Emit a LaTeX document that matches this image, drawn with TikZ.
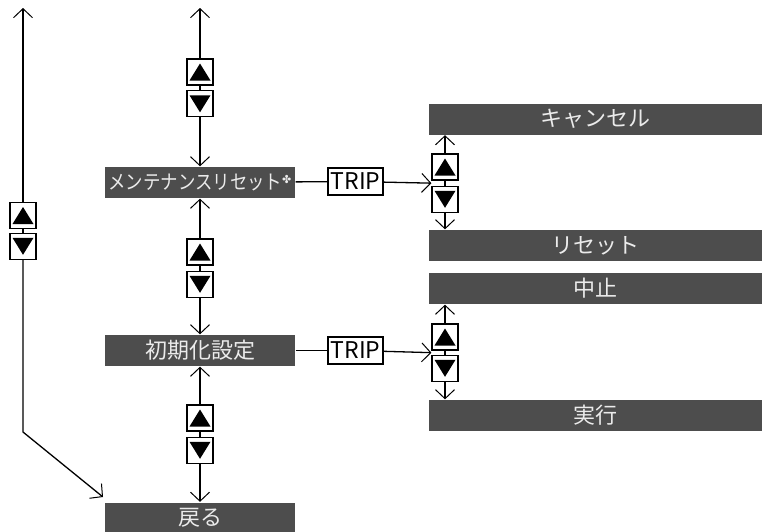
\documentclass[tikz,border=0pt]{standalone}
\usepackage{fontspec}
\setmainfont{Noto Sans CJK JP}
\newfontfamily\symfont{DejaVu Sans}
\usepackage{xcolor}
\usepackage{tikz}
\usetikzlibrary{arrows.meta, calc, positioning}

\definecolor{menugray}{HTML}{4D4D4D}

\begin{document}
\begin{tikzpicture}[x=1pt, y=-1pt, line width=1.3pt,
    >={Straight Barb[length=9pt, width=19pt, line width=1pt]},
    menu/.style={fill=menugray, text=white!92!black, minimum height=31pt, inner sep=0pt,
        font=\fontsize{22}{22}\selectfont},
    mainmenu/.style={menu, minimum width=190pt},
    submenu/.style={menu, minimum width=333pt},
    tripbox/.style={draw, fill=white, minimum width=55pt, minimum height=27pt, inner sep=0pt,
        font=\fontsize{23}{23}\selectfont},
    keybox/.style={draw, fill=white, minimum size=26pt, inner sep=0pt}]
    \useasboundingbox (0,0) rectangle (762,531);

    % Menüpunkte der Hauptspalte
    \node[mainmenu] (reset) at (200,182.5) {\fontsize{20}{20}\selectfont\scalebox{0.87}[1]{メンテナンスリセット}\raisebox{6pt}{\symfont\fontsize{11}{11}\selectfont ✤}};
    \node[mainmenu] (init)  at (200,350.5) {初期化設定};
    \node[mainmenu] (back)  at (200,518)   {戻る};

    % Untermenüs rechts
    \node[submenu] (cancel)  at (595.5,119)   {キャンセル};
    \node[submenu] (doreset) at (595.5,245.5) {リセット};
    \node[submenu] (stop)    at (595.5,288.5) {中止};
    \node[submenu] (exec)    at (595.5,415.5) {実行};

    % TRIP-Tasten
    \node[tripbox] (tripA) at (355.5,181.5) {TRIP};
    \node[tripbox] (tripB) at (355.5,350.5) {TRIP};

    % Pfeiltasten
    \node[keybox] (mainUpA) at (200,72) {};
    \node[keybox, below=4.5pt of mainUpA] (mainDnA) {};
    \node[keybox] (mainUpB) at (200,252) {};
    \node[keybox, below=5pt of mainUpB] (mainDnB) {};
    \node[keybox] (mainUpC) at (200,418) {};
    \node[keybox, below=5pt of mainUpC] (mainDnC) {};
    \node[keybox] (leftUp) at (23,215.5) {};
    \node[keybox, below=3.5pt of leftUp] (leftDn) {};
    \node[keybox] (subUpA) at (445,167) {};
    \node[keybox, below=5pt of subUpA] (subDnA) {};
    \node[keybox] (subUpB) at (445,337) {};
    \node[keybox, below=4pt of subUpB] (subDnB) {};

    % Dreiecke in den Tasten
    \foreach \k in {mainUpA, mainUpB, mainUpC, leftUp, subUpA, subUpB}
        \fill ($(\k.center)+(0pt,8.5pt)$) -- ++(-10.5pt,-17pt) -- ++(21pt,0pt) -- cycle;
    \foreach \k in {mainDnA, mainDnB, mainDnC, leftDn, subDnA, subDnB}
        \fill ($(\k.center)+(0pt,-8.5pt)$) -- ++(-10.5pt,17pt) -- ++(21pt,0pt) -- cycle;

    % Hilfspunkte
    \coordinate (mainTop) at (200,8);
    \coordinate (leftTop) at (23,8);
    \coordinate (leftBend) at (23,432);
    \coordinate (leftEnd) at (103,497);
    \coordinate (subInA) at ($(subUpA.south west)!0.5!(subDnA.north west)$);
    \coordinate (subInB) at ($(subUpB.south west)!0.5!(subDnB.north west)$);

    % Verbindungen Hauptspalte
    \draw[->] (mainUpA) -- (mainTop);
    \draw (mainUpA) -- (mainDnA);
    \draw[->] (mainDnA) -- (reset);
    \draw[->] (mainUpB) -- (reset);
    \draw (mainUpB) -- (mainDnB);
    \draw[->] (mainDnB) -- (init);
    \draw[->] (mainUpC) -- (init);
    \draw (mainUpC) -- (mainDnC);
    \draw[->] (mainDnC) -- (back);

    % linke Schleife
    \draw[->] (leftUp) -- (leftTop);
    \draw (leftUp) -- (leftDn);
    \draw[->] (leftDn) -- (leftBend) -- (leftEnd);

    % TRIP-Zweige
    \draw (reset) -- (tripA);
    \draw[->] (tripA) -- (subInA);
    \draw[->] (subUpA) -- (subUpA |- cancel.south);
    \draw (subUpA) -- (subDnA);
    \draw[->] (subDnA) -- (subDnA |- doreset.north);
    \draw (init) -- (tripB);
    \draw[->] (tripB) -- (subInB);
    \draw[->] (subUpB) -- (subUpB |- stop.south);
    \draw (subUpB) -- (subDnB);
    \draw[->] (subDnB) -- (subDnB |- exec.north);
\end{tikzpicture}
\end{document}
